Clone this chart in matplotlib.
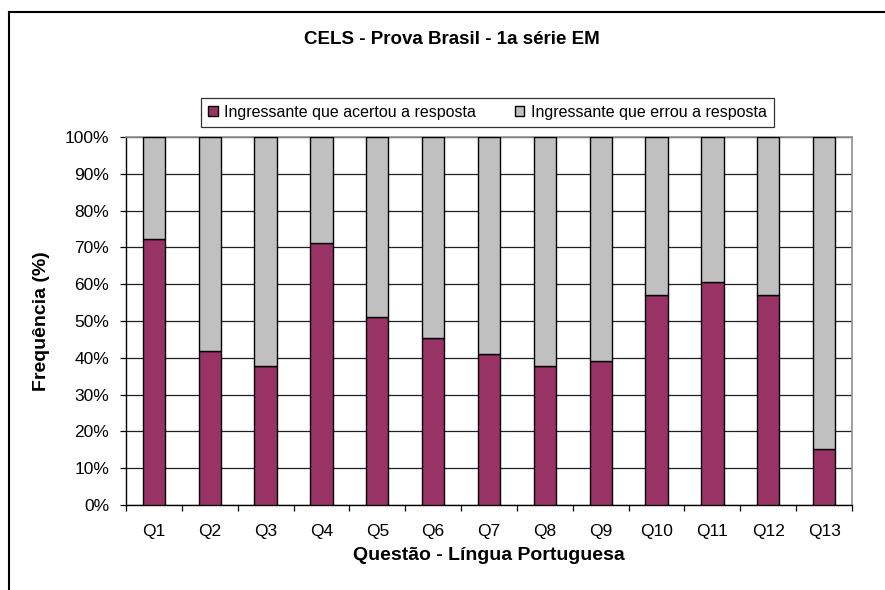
import numpy as np
import matplotlib
matplotlib.use("Agg")
import matplotlib.pyplot as plt
from matplotlib.lines import Line2D

plt.rcParams['font.family'] = ['Liberation Sans', 'DejaVu Sans']

# --- data ---
questoes = ['Q1', 'Q2', 'Q3', 'Q4', 'Q5', 'Q6', 'Q7', 'Q8', 'Q9', 'Q10', 'Q11', 'Q12', 'Q13']
acertou = [72.2, 41.8, 37.9, 71.3, 51.1, 45.5, 40.9, 37.8, 39.2, 57.0, 60.7, 57.0, 15.1]
errou = [100 - v for v in acertou]
yticks = [0, 10, 20, 30, 40, 50, 60, 70, 80, 90, 100]

cor_acertou = '#993366'
cor_errou = '#C0C0C0'

W, H = 885, 590
fig = plt.figure(figsize=(W / 100, H / 100), dpi=100)
ax = fig.add_axes([126 / W, 1 - 505 / H, (852 - 126) / W, (505 - 137) / H])

x = np.arange(len(questoes))
ax.bar(x, acertou, width=0.4, color=cor_acertou, edgecolor='black', linewidth=1.0, zorder=3,
       label='Ingressante que acertou a resposta')
ax.bar(x, errou, bottom=acertou, width=0.4, color=cor_errou, edgecolor='black', linewidth=1.0,
       zorder=3, label='Ingressante que errou a resposta')

ax.set_xlim(-0.5, len(questoes) - 0.5)
ax.set_ylim(0, 100)

# y axis
ax.set_yticks(yticks)
ax.set_yticklabels([f'{v}%' for v in yticks], fontsize=12.5)
ax.yaxis.grid(True, color='#202020', linewidth=0.9, zorder=0)
ax.tick_params(axis='y', direction='out', length=4.5, width=0.9, pad=7.5)

# x axis: tick marks between categories, labels centred
ax.set_xticks(np.arange(-0.5, len(questoes), 1.0))
ax.set_xticklabels([])
ax.set_xticks(x, minor=True)
ax.set_xticklabels(questoes, minor=True, fontsize=12.5)
ax.tick_params(axis='x', which='major', direction='out', length=4.5, width=0.9)
ax.tick_params(axis='x', which='minor', length=0, pad=14)

for s in ['left', 'bottom']:
    ax.spines[s].set_color('black')
    ax.spines[s].set_linewidth(1.0)
for s in ['top', 'right']:
    ax.spines[s].set_color('#909090')
    ax.spines[s].set_linewidth(1.2)

ax.set_ylabel('Frequência (%)', fontsize=14, fontweight='bold')
ax.yaxis.set_label_coords(-(126 - 50) / (852 - 126), 0.5)
ax.set_xlabel('Questão - Língua Portuguesa', fontsize=14, fontweight='bold')
ax.xaxis.set_label_coords(0.5, -(547 - 505) / (505 - 137))

fig.text(452 / W, 1 - 40 / H, 'CELS - Prova Brasil - 1a série EM', ha='center', va='center',
         fontsize=13.5, fontweight='bold')

leg = fig.legend(loc='center', bbox_to_anchor=(487.5 / W, 1 - 112.5 / H), ncol=2, fontsize=11.5,
                 frameon=True, fancybox=False, edgecolor='black', handlelength=0.6,
                 handleheight=0.6, handletextpad=0.4, columnspacing=2.4, borderpad=0.45)
leg.get_frame().set_linewidth(0.9)

# outer chart border (open to the right and bottom)
fig.add_artist(Line2D([8.5 / W, 8.5 / W], [0, 1 - 12 / H], color='black', linewidth=1.5,
                      transform=fig.transFigure))
fig.add_artist(Line2D([8.5 / W, 1.0], [1 - 12 / H, 1 - 12 / H], color='black', linewidth=1.5,
                      transform=fig.transFigure))

fig.savefig('out.png', dpi=100)
